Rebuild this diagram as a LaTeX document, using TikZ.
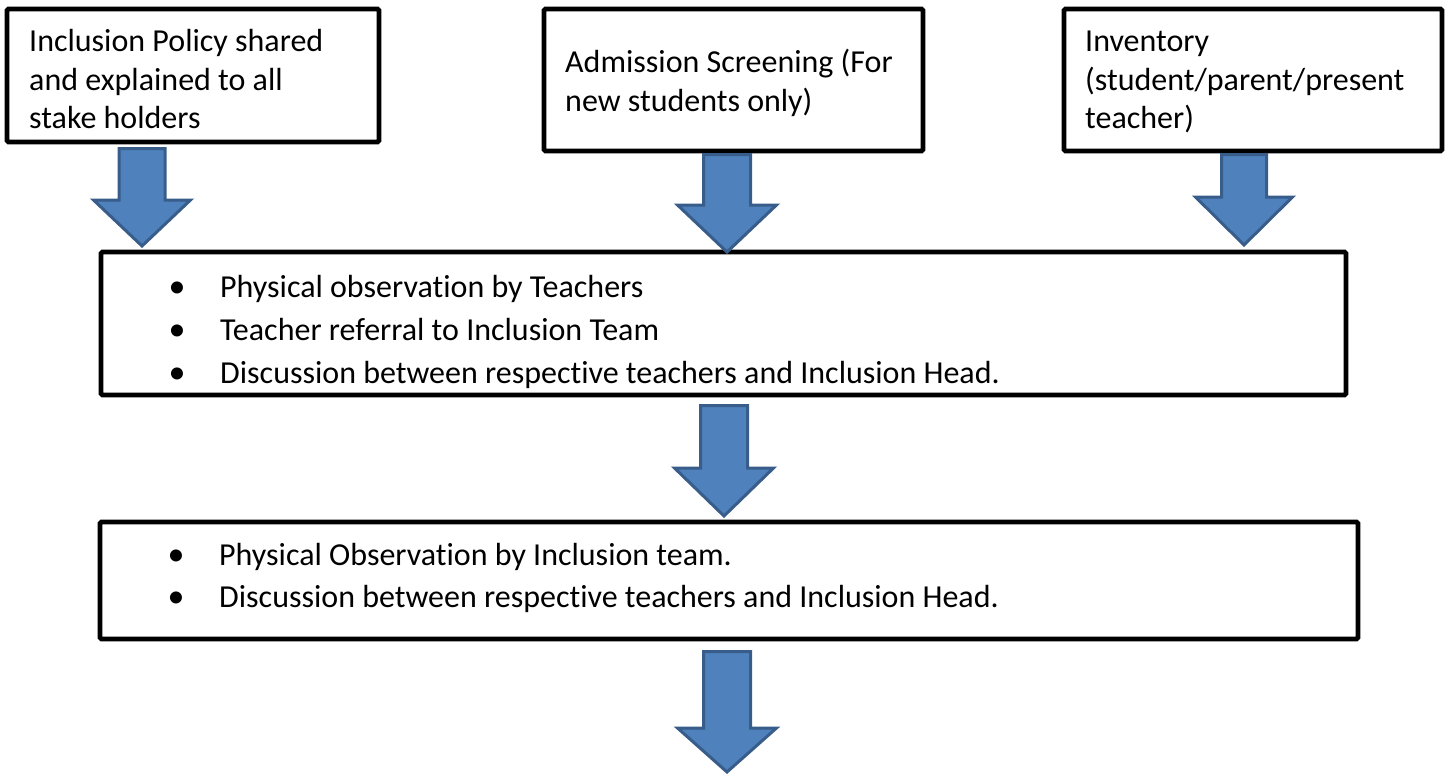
\documentclass[tikz,border=0pt]{standalone}
\usepackage{fontspec}
\setmainfont{Carlito}[Ligatures={NoCommon}]
\definecolor{arrowfill}{HTML}{4F81BD}
\definecolor{arrowline}{HTML}{385D8A}
\begin{document}
\begin{tikzpicture}[x=1pt,y=-1pt,
  box/.style={draw=black,line width=4.8pt,rounded corners=1.5pt,fill=white,
    inner sep=0pt,outer sep=0pt,anchor=north west},
  txt/.style={anchor=base west,inner sep=0pt,font=\fontsize{32}{38}\selectfont},
  bul/.style={anchor=base,inner sep=0pt,font=\fontsize{34}{38}\selectfont},
  blockarrow/.style={draw=arrowline,fill=arrowfill,line width=3pt,line join=miter}]
\useasboundingbox (0,0) rectangle (1448,776);

% top boxes
\node[box,minimum width=372pt,minimum height=133pt] (b1) at (7,9) {};
\node[box,minimum width=379pt,minimum height=142pt] (b2) at (544,9) {};
\node[box,minimum width=378pt,minimum height=142pt] (b3) at (1064,9) {};
% middle boxes
\node[box,minimum width=1245pt,minimum height=143pt] (b4) at (101,252) {};
\node[box,minimum width=1258pt,minimum height=117pt] (b5) at (100,522) {};

% texts
\node[txt] (t11) at (29,52) {Inclusion Policy shared};
\node[txt] (t12) at (29,90) {and explained to all};
\node[txt] (t13) at (29,128) {stake holders};

\node[txt] (t21) at (565,73) {Admission Screening (For};
\node[txt] (t22) at (565,111) {new students only)};

\node[txt] (t31) at (1085,52) {Inventory};
\node[txt] (t32) at (1085,90) {(student/parent/present};
\node[txt] (t33) at (1085,128) {teacher)};

\node[bul] (u41) at (177,297) {•};
\node[txt] (t41) at (220,297) {Physical observation by Teachers};
\node[bul] (u42) at (177,340) {•};
\node[txt] (t42) at (220,340) {Teacher referral to Inclusion Team};
\node[bul] (u43) at (177,383) {•};
\node[txt] (t43) at (220,383) {Discussion between respective teachers and Inclusion Head.};

\node[bul] (u51) at (176,565) {•};
\node[txt] (t51) at (219,565) {Physical Observation by Inclusion team.};
\node[bul] (u52) at (176,607) {•};
\node[txt] (t52) at (219,607) {Discussion between respective teachers and Inclusion Head.};

% block arrows (shaft top centre, then relative outline)
\coordinate (a1) at (142,148.5);
\coordinate (a2) at (727,154.5);
\coordinate (a3) at (1244,154.5);
\coordinate (a4) at (724,405.5);
\coordinate (a5) at (727,651.5);
\draw[blockarrow] (a1) ++(-23,0) -- ++(46,0) -- ++(0,51.5) -- ++(25.5,0)
  -- ++(-48.5,46) -- ++(-48.5,-46) -- ++(25.5,0) -- cycle;
\draw[blockarrow] (a2) ++(-23.5,0) -- ++(47,0) -- ++(0,50.5) -- ++(26,0)
  -- ++(-49.5,47) -- ++(-49.5,-47) -- ++(26,0) -- cycle;
\draw[blockarrow] (a3) ++(-22.5,0) -- ++(45,0) -- ++(0,42.5) -- ++(26,0)
  -- ++(-48.5,48) -- ++(-48.5,-48) -- ++(26,0) -- cycle;
\draw[blockarrow] (a4) ++(-23.5,0) -- ++(47,0) -- ++(0,62.5) -- ++(26,0)
  -- ++(-49.5,48) -- ++(-49.5,-48) -- ++(26,0) -- cycle;
\draw[blockarrow] (a5) ++(-23.5,0) -- ++(47,0) -- ++(0,76.5) -- ++(26,0)
  -- ++(-49.5,44) -- ++(-49.5,-44) -- ++(26,0) -- cycle;
\end{tikzpicture}
\end{document}
